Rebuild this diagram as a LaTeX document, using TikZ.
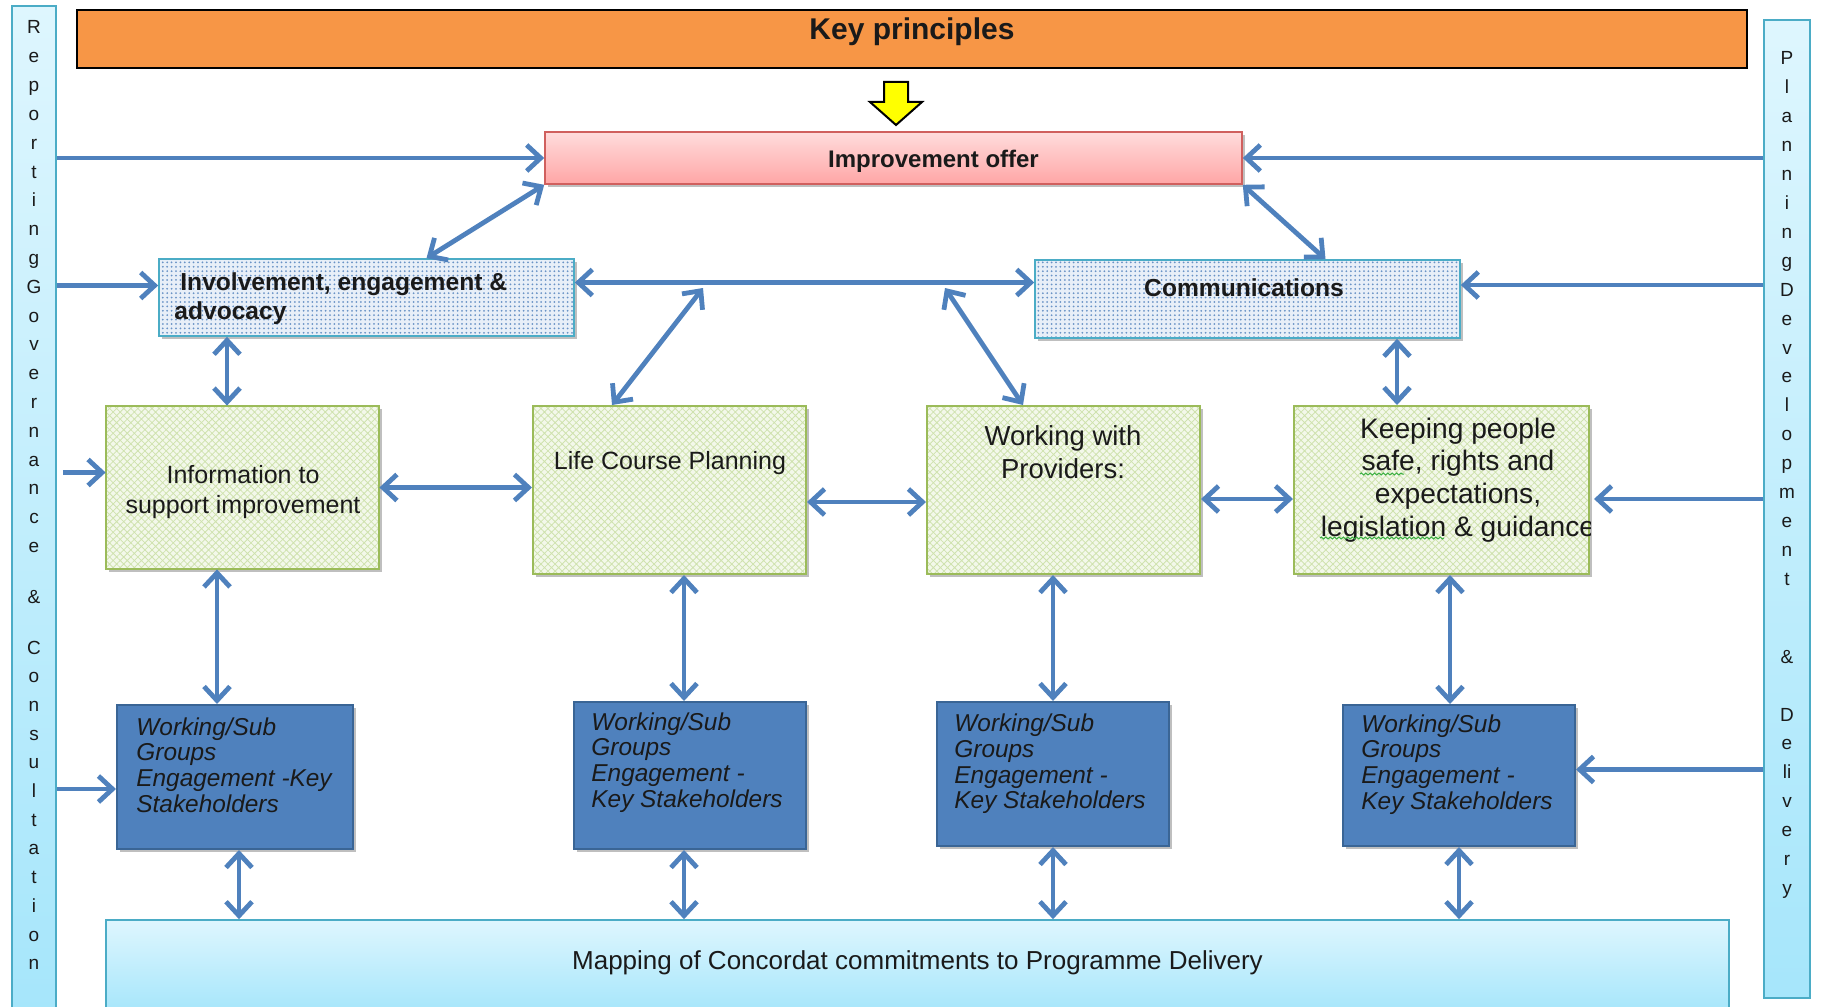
\documentclass[tikz,border=0pt]{standalone}
\usepackage{fontspec}
\setmainfont{Liberation Sans}
\usetikzlibrary{arrows.meta,shadows,patterns.meta,decorations.pathmorphing,calc}
\definecolor{arrowblue}{HTML}{4F81BD}
\definecolor{keyorange}{HTML}{F79646}
\definecolor{pinktop}{HTML}{FFDCDC}
\definecolor{pinkbot}{HTML}{FFA6A6}
\definecolor{pinkborder}{HTML}{D0605E}
\definecolor{dotfill}{HTML}{E8EFF8}
\definecolor{dotcol}{HTML}{6A93C6}
\definecolor{tealborder}{HTML}{4BACC6}
\definecolor{greenfill}{HTML}{F3F8EA}
\definecolor{greenhatch}{HTML}{CFE2AE}
\definecolor{greenborder}{HTML}{9BBB59}
\definecolor{boxblue}{HTML}{4F81BD}
\definecolor{boxblueborder}{HTML}{3A6595}
\definecolor{cyantop}{HTML}{DEF6FE}
\definecolor{cyanbot}{HTML}{A6E6FB}
\definecolor{arrowyellow}{HTML}{FFFF00}
\definecolor{spellgreen}{HTML}{3CB043}
\definecolor{txt}{HTML}{1A1A1A}
\begin{document}
\begin{tikzpicture}[x=0.5pt,y=-0.5pt,
  every node/.style={inner sep=0pt, text=txt},
  shadowed/.style={drop shadow={shadow xshift=1.5pt, shadow yshift=-1.5pt, opacity=0.25, fill=black}},
  keybox/.style={draw=black, line width=1.2pt, fill=keyorange, font=\bfseries\fontsize{15}{17}\selectfont},
  imprbox/.style={draw=pinkborder, line width=0.8pt, top color=pinktop, bottom color=pinkbot, shadowed, font=\bfseries\fontsize{12}{14}\selectfont},
  dotbox/.style={draw=tealborder, line width=0.8pt, shadowed, preaction={fill=dotfill}, pattern={Dots[distance=2.2pt,radius=0.5pt]}, pattern color=dotcol},
  greenbox/.style={draw=greenborder, line width=1pt, shadowed, preaction={fill=greenfill}, pattern={Hatch[distance=2.5pt,angle=45,line width=0.4pt]}, pattern color=greenhatch},
  bluebox/.style={draw=boxblueborder, line width=1pt, fill=boxblue, shadowed},
  cyanbox/.style={draw=tealborder, line width=0.8pt, top color=cyantop, bottom color=cyanbot},
  boldtext/.style={font=\bfseries\fontsize{12.3}{14.5}\selectfont},
  gtext/.style={align=center, font=\fontsize{12.5}{15}\selectfont},
  gbigtext/.style={align=center, font=\fontsize{13.75}{16.3}\selectfont},
  keeptext/.style={align=center, font=\fontsize{14.1}{16.3}\selectfont},
  bluetext/.style={align=left, anchor=west, font=\itshape\fontsize{12.2}{12.85}\selectfont},
  sidetext/.style={anchor=base, font=\fontsize{9.5}{11}\selectfont},
  conn/.style={draw=arrowblue, line width=2.4pt, -{Straight Barb[length=7pt,width=13pt]}},
  biconn/.style={draw=arrowblue, line width=2.4pt, {Straight Barb[length=7pt,width=13pt]}-{Straight Barb[length=7pt,width=13pt]}},
  spell/.style={draw=spellgreen, line width=0.5pt, decorate, decoration={snake, amplitude=0.5pt, segment length=2.2pt}}
]
\useasboundingbox (0,0) rectangle (1829,1006);

% side bars
\node[cyanbox, minimum width=22pt, minimum height=502pt] (lbar) at (34,508) {};
\node[cyanbox, minimum width=23pt, minimum height=489pt] (rbar) at (1787,509) {};

\foreach \ch [count=\i from 0] in {R,e,p,o,r,t,i,n,g,G,o,v,e,r,n,a,n,c,e}
  \node[sidetext] (L\i) at (34,{34+28.8*\i}) {\ch};
\node[sidetext] (Lamp) at (34,603) {\&};
\foreach \ch [count=\j from 0] in {C,o,n,s,u,l,t,a,t,i,o,n}
  \node[sidetext] (LC\j) at (34,{654+28.7*\j}) {\ch};
\foreach \ch [count=\i from 0] in {P,l,a,n,n,i,n,g,D,e,v,e,l,o,p,m,e,n,t}
  \node[sidetext] (R\i) at (1787,{65+28.9*\i}) {\ch};
\node[sidetext] (Ramp) at (1787,663) {\&};
\foreach \ch [count=\j from 0] in {D,e,li,v,e,r,y}
  \node[sidetext] (RD\j) at (1787,{721+28.9*\j}) {\ch};

% top
\node[keybox, minimum width=835pt, minimum height=29pt] (key) at (912,39) {\raisebox{3.5pt}[\height][\depth]{Key principles}};
\draw[fill=arrowyellow, draw=black, line width=1pt, line join=miter]
  (884,82) -- (908,82) -- (908,102) -- (922,102) -- (896,125) -- (870,102) -- (884,102) -- cycle;
\node[imprbox, minimum width=348.5pt, minimum height=26pt] (impr) at (893.5,158) {\hspace*{40pt}\raisebox{-1.75pt}[\height][\depth]{Improvement offer}};

% second row
\node[dotbox, minimum width=207.5pt, minimum height=38.5pt] (inv) at (366.5,297.5) {};
\node[boldtext, align=left, anchor=west] (invt) at (174,299) {\hspace*{3pt}Involvement, engagement \&\\advocacy};
\node[dotbox, minimum width=212.5pt, minimum height=39pt] (comm) at (1247.5,299) {};
\node[boldtext] (commt) at (1244,288) {Communications};

% green row
\node[greenbox, minimum width=136.5pt, minimum height=81.5pt] (info) at (242.5,487.5) {};
\node[gtext] (infot) at (243,492) {Information to\\support improvement};
\node[greenbox, minimum width=136.5pt, minimum height=84pt] (life) at (669.5,490) {};
\node[gtext] (lifet) at (670,463.5) {Life Course Planning};
\node[greenbox, minimum width=136.5pt, minimum height=84pt] (work) at (1063.5,490) {};
\node[gbigtext] (workt) at (1063,452) {Working with\\Providers:};
\node[greenbox, minimum width=147.5pt, minimum height=84pt] (keep) at (1441.5,490) {};
\begin{scope}
  \clip (keep.south west) rectangle (keep.north east);
  \node[keeptext] (keept) at (1458,480) {Keeping people\\safe, rights and\\expectations,\\legislation \& guidance};
\end{scope}
\draw[spell] (1360,474) -- (1404,474);
\draw[spell] (1320,538) -- (1444,538);

% blue row
\node[bluebox, minimum width=118pt, minimum height=72pt] (b1) at (235,777) {};
\node[bluetext] (b1t) at ([xshift=10pt,yshift=6pt]b1.west) {Working/Sub\\Groups\\Engagement -Key\\Stakeholders};
\node[bluebox, minimum width=116pt, minimum height=73.5pt] (b2) at (690,775.5) {};
\node[bluetext] (b2t) at ([xshift=9pt,yshift=6.5pt]b2.west) {Working/Sub\\Groups\\Engagement -\\Key Stakeholders};
\node[bluebox, minimum width=116pt, minimum height=72pt] (b3) at (1053,774) {};
\node[bluetext] (b3t) at ([xshift=9pt,yshift=5pt]b3.west) {Working/Sub\\Groups\\Engagement -\\Key Stakeholders};
\node[bluebox, minimum width=116pt, minimum height=70.5pt] (b4) at (1459,775.5) {};
\node[bluetext] (b4t) at ([xshift=9.5pt,yshift=5.5pt]b4.west) {Working/Sub\\Groups\\Engagement -\\Key Stakeholders};

% mapping
\node[cyanbox, minimum width=811.5pt, minimum height=46pt, font=\fontsize{13}{15}\selectfont] (map) at (917.5,966) {\raisebox{1.6pt}[\height][\depth]{Mapping of Concordat commitments to Programme Delivery}};

% connectors
\draw[conn] (impr.west -| lbar.east) -- (impr.west);
\draw[conn] (impr.east -| rbar.west) -- (impr.east);
\draw[conn] ([yshift=6pt]inv.west -| lbar.east) -- ([yshift=6pt]inv.west);
\draw[conn] ([yshift=7pt]comm.east -| rbar.west) -- ([yshift=7pt]comm.east);
\draw[biconn] ([xshift=30pt]inv.north) -- (impr.south west);
\draw[biconn] (impr.south east) -- ([xshift=39pt]comm.north);
\draw[biconn] ([yshift=7.5pt]inv.east) -- ([yshift=7.5pt]inv.east -| comm.west);
\coordinate (hl1) at (703,288);
\coordinate (hl2) at (945,288);
\draw[biconn] (hl1) -- ([xshift=-28.75pt]life.north);
\draw[biconn] (hl2) -- ([xshift=-20.25pt]work.north);
\draw[biconn] ([xshift=-69.75pt]inv.south) -- ([xshift=-69.75pt]inv.south |- info.north);
\draw[biconn] ([xshift=74.75pt]comm.south) -- ([xshift=74.75pt]comm.south |- keep.north);
\draw[conn] ([yshift=7.5pt,xshift=3pt]info.west -| lbar.east) -- ([yshift=7.5pt]info.west);
\draw[biconn] (info.east) -- (info.east -| life.west);
\draw[biconn] ([yshift=-6pt]life.east) -- ([yshift=-6pt]life.east -| work.west);
\draw[biconn] ([yshift=-4.5pt]work.east) -- ([yshift=-4.5pt]work.east -| keep.west);
\draw[conn] ([yshift=-4.5pt]keep.east -| rbar.west) -- ([yshift=-4.5pt,xshift=2pt]keep.east);
\draw[biconn] ([xshift=-9pt]b1.north |- info.south) -- ([xshift=-9pt]b1.north);
\draw[biconn] ([xshift=-3pt]b2.north |- life.south) -- ([xshift=-3pt]b2.north);
\draw[biconn] (b3.north |- work.south) -- (b3.north);
\draw[biconn] ([xshift=-4.5pt]b4.north |- keep.south) -- ([xshift=-4.5pt]b4.north);
\draw[conn] ([yshift=-6pt]b1.west -| lbar.east) -- ([yshift=-6pt]b1.west);
\draw[conn] ([yshift=3pt]b4.east -| rbar.west) -- ([yshift=3pt]b4.east);
\draw[biconn] ([xshift=2pt]b1.south) -- ([xshift=2pt]b1.south |- map.north);
\draw[biconn] ([xshift=-3pt]b2.south) -- ([xshift=-3pt]b2.south |- map.north);
\draw[biconn] (b3.south) -- (b3.south |- map.north);
\draw[biconn] (b4.south) -- (b4.south |- map.north);
\end{tikzpicture}
\end{document}
